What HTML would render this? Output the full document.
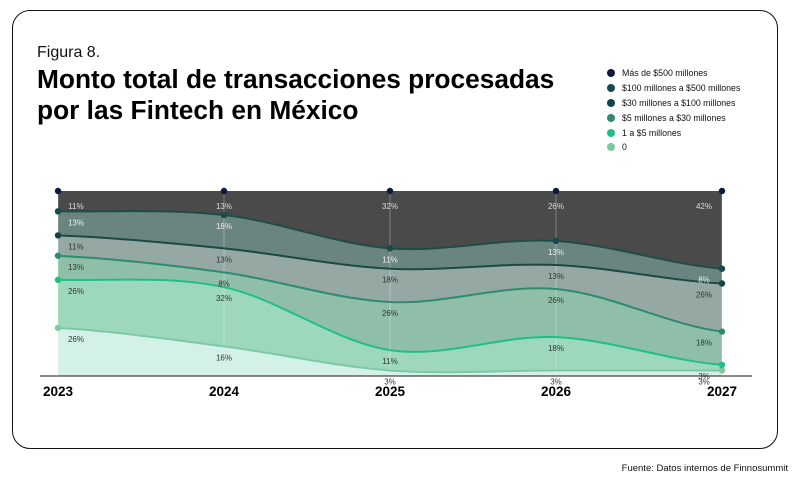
<!DOCTYPE html>
<html><head><meta charset="utf-8">
<style>
body{margin:0;width:804px;height:484px;background:#fff;font-family:"Liberation Sans",sans-serif;position:relative;overflow:hidden}
.card{position:absolute;left:12px;top:10px;width:764px;height:437px;border:1.5px solid #111;border-radius:18px}
.fig{position:absolute;left:37px;top:44px;font-size:16px;color:#111}
.title{position:absolute;left:37px;top:64px;font-size:26.3px;font-weight:bold;line-height:31px;color:#000}
.legend{position:absolute;left:607px;top:66px;font-size:8.8px;color:#111}
.li{height:14.8px;display:flex;align-items:center}
.dot{width:8px;height:8px;border-radius:50%;margin-right:7px}
.src{position:absolute;right:16px;top:463px;font-size:9.5px;color:#111}
svg{position:absolute;left:0;top:0}
</style></head><body>
<div class="card"></div>
<div class="fig">Figura 8.</div>
<div class="title">Monto total de transacciones procesadas<br>por las Fintech en México</div>
<div class="legend">
<div class="li"><span class="dot" style="background:#0e1a3a"></span>Más de $500 millones</div>
<div class="li"><span class="dot" style="background:#174a4c"></span>$100 millones a $500 millones</div>
<div class="li"><span class="dot" style="background:#134448"></span>$30 millones a $100 millones</div>
<div class="li"><span class="dot" style="background:#2e8a70"></span>$5 millones a $30 millones</div>
<div class="li"><span class="dot" style="background:#1fbf86"></span>1 a $5 millones</div>
<div class="li"><span class="dot" style="background:#7cc9a4"></span>0</div>
</div>
<div class="src">Fuente: Datos internos de Finnosummit</div>
<svg id="chart" width="804" height="484"></svg>
<script>
const years = ["2023","2024","2025","2026","2027"];
const sZero = [26,16,3,3,3];
const s1a5 = [26,32,11,18,3];
const s5a30 = [13,8,26,26,18];
const s30a100 = [11,13,18,13,26];
const s100a500 = [13,18,11,13,8];
const sMas500 = [11,13,32,26,42];
const series=[sZero,s1a5,s5a30,s30a100,s100a500,sMas500];
const fills=["#d3f1e6","#9dd8bd","#8fbfa9","#96a8a4","#6a8580","#4a4a4a"];
const lines=["#7cc9a4","#1fbf86","#2e8a70","#1a4a44","#1e4d45",null];
const dots=["#7cc9a4","#1fbf86","#2e8a70","#134448","#174a4c","#0e1a3a"];
const lblCol=["#333","#333","#333","#333","#eee","#ddd"];
const X0=58,X1=722,Y0=376,Y1=191;
const xs=i=>X0+(X1-X0)*i/(years.length-1);
const ys=v=>Y0-(Y0-Y1)*v/100;
const svg=document.getElementById('chart');const NS="http://www.w3.org/2000/svg";
function mk(t,a){const e=document.createElementNS(NS,t);for(const k in a)e.setAttribute(k,a[k]);svg.appendChild(e);return e;}
const cum=[];let base=years.map(()=>0);
series.forEach(s=>{const top=s.map((v,i)=>base[i]+v);cum.push({lo:base,hi:top});base=top;});
cum.forEach(c=>{c.hi=c.hi.map(v=>Math.min(v,100));});
cum[cum.length-1].hi=years.map(()=>100);
function curve(vals,rev){let pts=vals.map((v,i)=>[xs(i),ys(v)]);if(rev)pts=pts.slice().reverse();
 const n=pts.length;let d=(rev?"L":"M")+pts[0][0]+","+pts[0][1];const t=0.5;
 for(let i=1;i<n;i++){const p0=pts[Math.max(i-2,0)],p1=pts[i-1],p2=pts[i],p3=pts[Math.min(i+1,n-1)];
  const c1x=p1[0]+(p2[0]-p0[0])/6*t*2*0.5*2/2, c1y=p1[1]+(p2[1]-p0[1])/6*t*2;
  const c2x=p2[0]-(p3[0]-p1[0])/6*t*2*0.5*2/2, c2y=p2[1]-(p3[1]-p1[1])/6*t*2;
  const cx1=p1[0]+(p2[0]-p1[0])/3, cx2=p2[0]-(p2[0]-p1[0])/3;
  d+=` C${cx1},${c1y} ${cx2},${c2y} ${p2[0]},${p2[1]}`;}
 return d;}
cum.forEach((c,k)=>{const a=mk('path',{d:curve(c.hi,false)+curve(c.lo,true)+"Z",fill:fills[k]});

});
years.forEach((y,i)=>{const g=mk('line',{x1:xs(i),x2:xs(i),y1:Y1,y2:Y0,stroke:"rgba(255,255,255,0.3)","stroke-width":1});

});
cum.forEach((c,k)=>{if(!lines[k])return;const l=mk('path',{d:curve(c.hi,false),fill:"none",stroke:lines[k],"stroke-width":2});

});
mk('line',{x1:40,x2:752,y1:Y0,y2:Y0,stroke:"#444","stroke-width":1.2});
cum.forEach((c,k)=>{[0,4].forEach(i=>{const d=mk('circle',{cx:xs(i),cy:ys(c.hi[i]),r:3.2,fill:dots[k]});

});
if(k==5){[1,2,3].forEach(i=>{const d=mk('circle',{cx:xs(i),cy:Y1,r:3.2,fill:dots[5]});

});}
if(k==4){[1,2,3].forEach(i=>{const d=mk('circle',{cx:xs(i),cy:ys(c.hi[i]),r:3.2,fill:dots[4]});

});}});
cum.forEach((c,k)=>{series[k].forEach((v,i)=>{let x=xs(i);if(i==0)x+=18;if(i==4)x-=18;
const t=mk('text',{x:x,y:ys(c.hi[i])+(k==5?18:14),"font-size":8,"text-anchor":"middle",fill:lblCol[k]});t.textContent=v+"%";

});});
years.forEach((y,i)=>{const t=mk('text',{x:xs(i),y:396,"font-size":13.5,"font-weight":"bold","text-anchor":"middle",fill:"#000"});t.textContent=y;

});
</script>
</body></html>
